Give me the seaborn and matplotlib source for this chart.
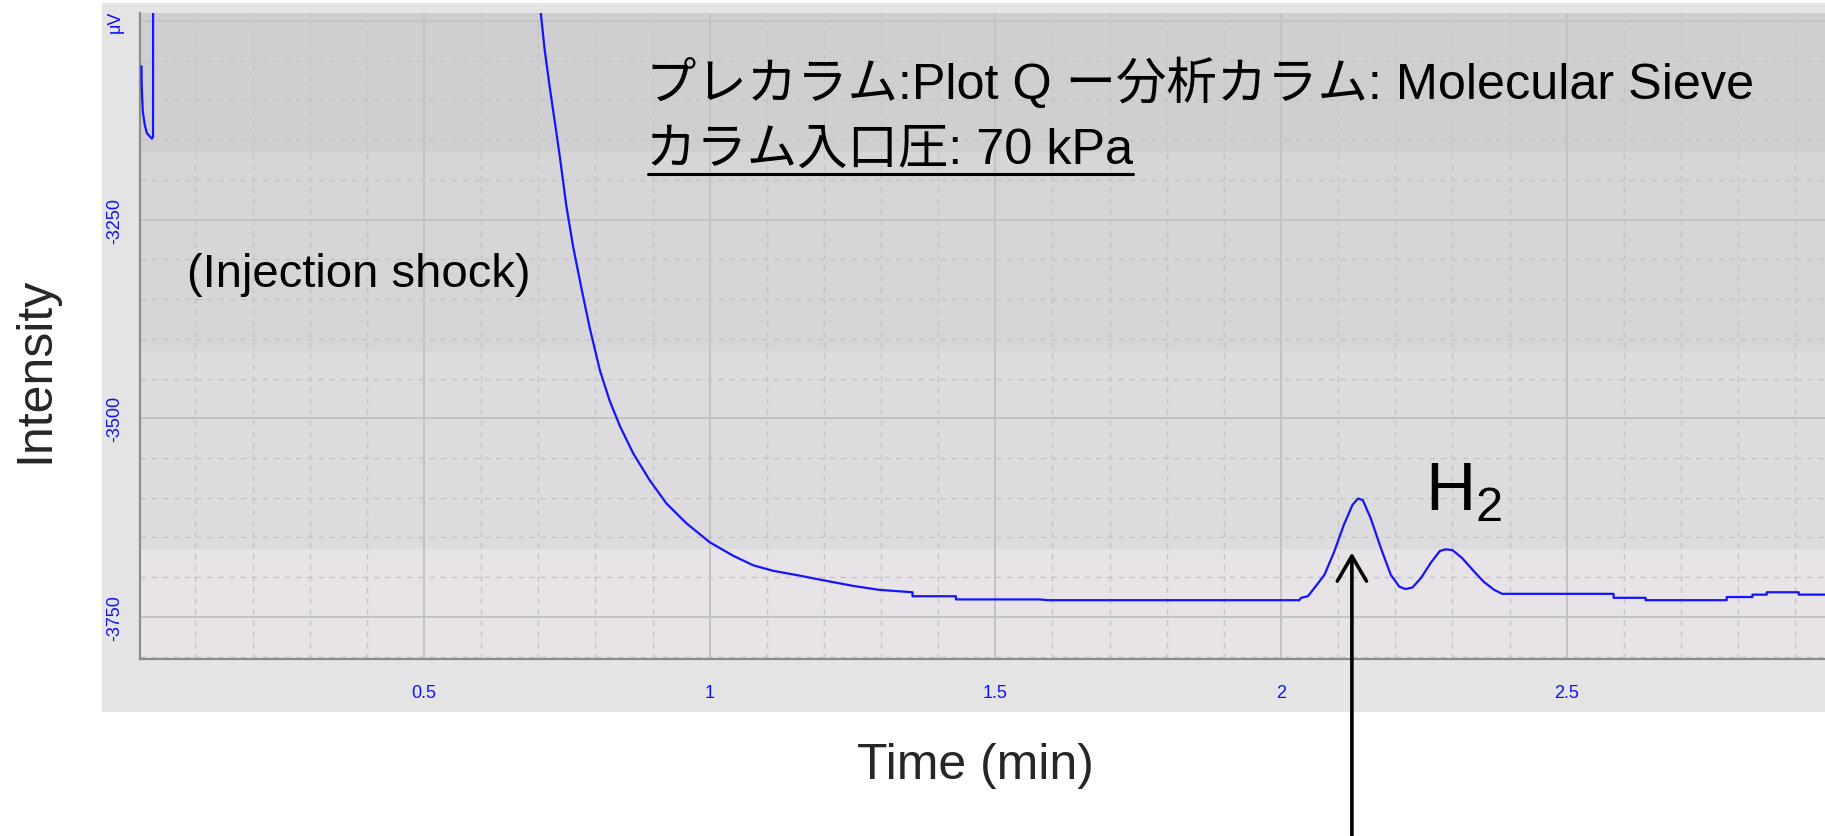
import numpy as np
import pandas as pd
import matplotlib
matplotlib.use("Agg")
import matplotlib.pyplot as plt
from matplotlib.ticker import MultipleLocator
from matplotlib.patches import Rectangle
from matplotlib.lines import Line2D
import seaborn as sns

# ---------------- data ----------------
time_min = [
    0.0056, 0.0060, 0.0079, 0.0114, 0.0149, 0.0184, 0.0236, 0.0258, 0.0262,
    0.700, 0.704, 0.711, 0.720, 0.729, 0.738, 0.749, 0.761, 0.776, 0.790,
    0.808, 0.825, 0.843, 0.866, 0.895, 0.924, 0.959, 1.000, 1.041, 1.076,
    1.111, 1.157, 1.192, 1.251, 1.297, 1.355, 1.355, 1.431, 1.431, 1.577,
    1.592, 2.032, 2.035, 2.047, 2.058, 2.076, 2.093, 2.110, 2.125, 2.135,
    2.143, 2.157, 2.175, 2.192, 2.207, 2.218, 2.230, 2.245, 2.262, 2.278,
    2.288, 2.300, 2.317, 2.338, 2.355, 2.373, 2.387, 2.582, 2.582, 2.638,
    2.638, 2.780, 2.780, 2.825, 2.825, 2.850, 2.850, 2.906, 2.906, 2.960,
]
signal_uV = [
    -3057, -3082, -3114, -3131, -3141, -3144, -3148, -3146, -2600,
    -2600, -2987, -3035, -3083, -3127, -3172, -3232, -3284, -3338, -3386,
    -3440, -3478, -3510, -3544, -3578, -3607, -3632, -3656, -3673, -3685,
    -3692, -3698, -3703, -3711, -3716, -3719, -3724, -3724, -3728, -3728,
    -3729, -3729, -3726, -3724, -3714, -3697, -3668, -3634, -3609, -3601,
    -3603, -3626, -3664, -3697, -3712, -3715, -3713, -3701, -3682, -3667,
    -3665, -3666, -3676, -3693, -3706, -3716, -3721, -3721, -3726, -3726,
    -3729, -3729, -3725, -3725, -3722, -3722, -3719, -3719, -3722, -3722,
]

x_ticks = [0.5, 1.0, 1.5, 2.0, 2.5]
x_tick_labels = ["0.5", "1", "1.5", "2", "2.5"]
y_ticks = [-3750, -3500, -3250, -3000]
y_tick_labels = ["-3750", "-3500", "-3250", "μV"]

title_line1 = "プレカラム:Plot Q ー分析カラム: Molecular Sieve"
title_line2 = "カラム入口圧: 70 kPa"
shock_label = "(Injection shock)"
peak_label = r"H$_{\mathregular{2}}$"
peak_time = 2.124
peak_arrow_tip = -3669
x_label = "Time (min)"
y_label = "Intensity"

# ---------------- style ----------------
sns.set_style("white")
plt.rcParams["font.family"] = ["Liberation Sans", "Noto Sans CJK JP", "DejaVu Sans"]
plt.rcParams["mathtext.fontset"] = "custom"
plt.rcParams["mathtext.rm"] = "Liberation Sans"

W, H = 1825, 837
fig = plt.figure(figsize=(W / 100, H / 100), dpi=100)
fig.patch.set_facecolor("white")

# grey instrument panel behind the plot
fig.patches.append(Rectangle((102 / W, 1 - 713 / H), 1 - 102 / W, (713 - 4) / H,
                             transform=fig.transFigure, facecolor="#e4e4e4",
                             edgecolor="none", zorder=-10))

ax = fig.add_axes([140 / W, 1 - 660 / H, 1 - 140 / W, (660 - 14) / H])
ax.set_zorder(1)
ax.set_xlim(0.003, 2.952)
ax.set_ylim(-3803, -2990)

# background bands of the plot area
ax.set_facecolor("#e7e3e7")
ax.axhspan(-3665, -3415, color="#dddbde", lw=0, zorder=0.2)
ax.axhspan(-3415, -3165, color="#d7d5d8", lw=0, zorder=0.2)
ax.axhspan(-3165, -2900, color="#d0ced1", lw=0, zorder=0.2)

df = pd.DataFrame({"time": time_min, "signal": signal_uV})
sns.lineplot(data=df, x="time", y="signal", sort=False, estimator=None,
             color="#1414ff", lw=1.6, ax=ax, zorder=3)
ax.set_xlabel("")
ax.set_ylabel("")

# ticks / grid
ax.set_xticks(x_ticks)
ax.set_xticklabels(x_tick_labels)
ax.set_yticks(y_ticks)
ax.set_yticklabels(y_tick_labels)
ax.xaxis.set_minor_locator(MultipleLocator(0.1))
ax.yaxis.set_minor_locator(MultipleLocator(50))
ax.set_axisbelow("line")
ax.grid(which="major", color="#c3c3c3", lw=1.4, ls="-")
ax.grid(which="minor", color="#c4c4c4", lw=1.0, ls=(0, (4, 4)))

for s in ["top", "right"]:
    ax.spines[s].set_visible(False)
for s in ["left", "bottom"]:
    ax.spines[s].set_color("#8c8c8c")
    ax.spines[s].set_linewidth(1.6)

ax.tick_params(axis="both", which="both", direction="out", color="#8c8c8c",
               labelcolor="#1010ff", labelsize=13)
ax.tick_params(axis="x", which="major", length=9, width=1.2, pad=9)
ax.tick_params(axis="x", which="minor", length=5, width=1.0)
ax.tick_params(axis="y", which="major", length=6, width=1.4, pad=6)
ax.tick_params(axis="y", which="minor", length=5, width=1.0)
for lab in ax.get_yticklabels():
    lab.set_rotation(90)
    lab.set_va("center")
for lab in ax.get_xticklabels() + ax.get_yticklabels():
    lab.set_family(["Liberation Sans Narrow", "Liberation Sans", "DejaVu Sans"])

# annotations
ax.text(0.085, -3319, shock_label, fontsize=34, color="black",
        ha="left", va="center", zorder=5)
ax.text(0.889, -3077, title_line1, fontsize=36.3, color="black",
        ha="left", va="center", zorder=5)
t2 = ax.text(0.889, -3162, title_line2, fontsize=36.3, color="black",
             ha="left", va="center", zorder=5)
ax.text(2.252, -3615, peak_label, fontsize=50, color="black",
        ha="left", va="baseline", zorder=5)

ax.annotate("", xy=(peak_time, peak_arrow_tip), xytext=(peak_time, -4040),
            xycoords="data", textcoords="data", annotation_clip=False,
            arrowprops=dict(arrowstyle="->,head_length=0.6,head_width=0.35",
                            color="black", lw=2.6, shrinkA=0, shrinkB=0,
                            mutation_scale=30),
            zorder=6)

fig.text(35 / W, 1 - 370 / H, y_label, rotation=90, fontsize=36,
         ha="center", va="center")
fig.text(975 / W, 1 - 766 / H, x_label, fontsize=36, ha="center", va="center")

# underline for the second title line
fig.canvas.draw()
bb = t2.get_window_extent(fig.canvas.get_renderer())
fig.add_artist(Line2D([bb.x0 + 2, bb.x1], [bb.y0 - 1, bb.y0 - 1],
                      transform=None, color="black", lw=2.2, zorder=10))

fig.savefig("out.png", dpi=100)
